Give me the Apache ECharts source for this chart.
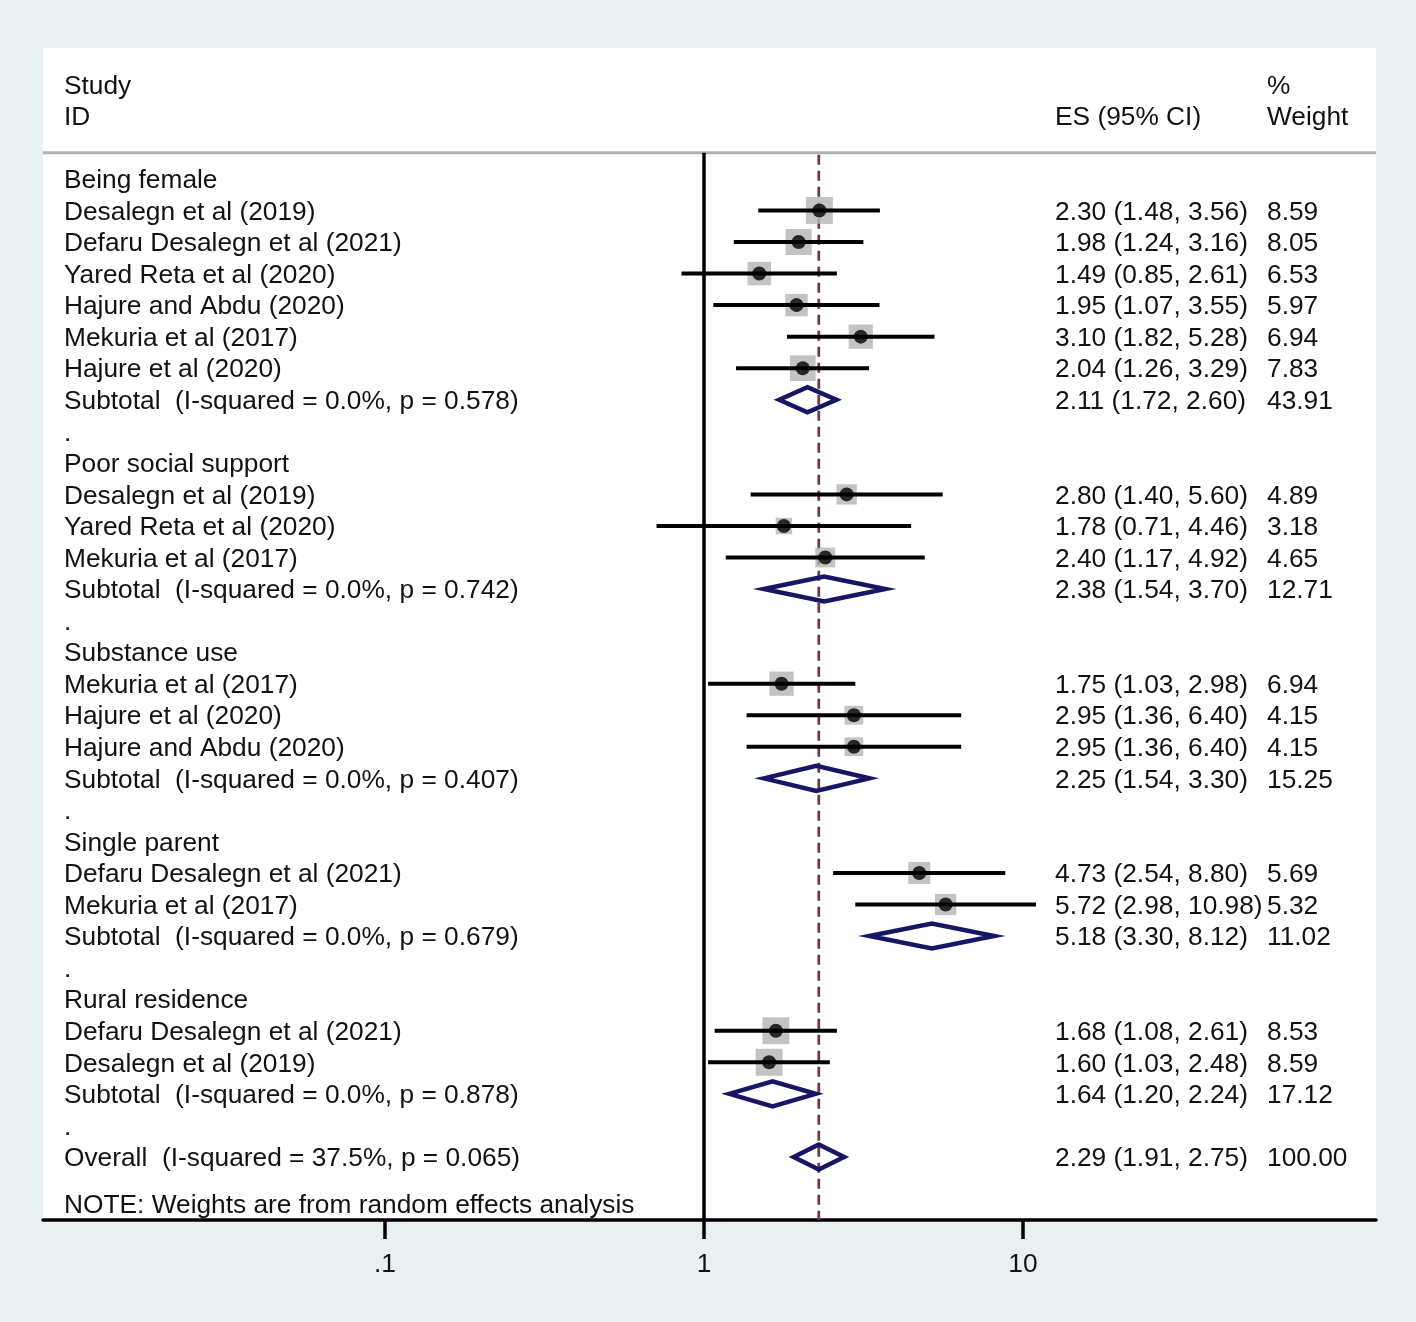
<!DOCTYPE html>
<html><head><meta charset="utf-8">
<script src="https://cdn.jsdelivr.net/npm/echarts@6/dist/echarts.min.js"></script>
<style>html,body{margin:0;padding:0;background:#e9f0f2;} #c{width:1416px;height:1322px;}</style>
</head><body><div id="c"></div>
<script>
// ---------- DATA ----------
const rowLabels = [
  'Being female',
  'Desalegn et al (2019)',
  'Defaru Desalegn et al (2021)',
  'Yared Reta et al (2020)',
  'Hajure and Abdu (2020)',
  'Mekuria et al (2017)',
  'Hajure et al (2020)',
  'Subtotal  (I-squared = 0.0%, p = 0.578)',
  '.',
  'Poor social support',
  'Desalegn et al (2019)',
  'Yared Reta et al (2020)',
  'Mekuria et al (2017)',
  'Subtotal  (I-squared = 0.0%, p = 0.742)',
  '.',
  'Substance use',
  'Mekuria et al (2017)',
  'Hajure et al (2020)',
  'Hajure and Abdu (2020)',
  'Subtotal  (I-squared = 0.0%, p = 0.407)',
  '.',
  'Single parent',
  'Defaru Desalegn et al (2021)',
  'Mekuria et al (2017)',
  'Subtotal  (I-squared = 0.0%, p = 0.679)',
  '.',
  'Rural residence',
  'Defaru Desalegn et al (2021)',
  'Desalegn et al (2019)',
  'Subtotal  (I-squared = 0.0%, p = 0.878)',
  '.',
  'Overall  (I-squared = 37.5%, p = 0.065)'
];
// h = group heading, s = study, t = subtotal, g = gap, o = overall
const rowKinds = ['h','s','s','s','s','s','s','t','g',
                  'h','s','s','s','t','g',
                  'h','s','s','s','t','g',
                  'h','s','s','t','g',
                  'h','s','s','t','g',
                  'o'];
const es      = [null,2.30,1.98,1.49,1.95,3.10,2.04,2.11,null, null,2.80,1.78,2.40,2.38,null, null,1.75,2.95,2.95,2.25,null, null,4.73,5.72,5.18,null, null,1.68,1.60,1.64,null, 2.29];
const ciLow   = [null,1.48,1.24,0.85,1.07,1.82,1.26,1.72,null, null,1.40,0.71,1.17,1.54,null, null,1.03,1.36,1.36,1.54,null, null,2.54,2.98,3.30,null, null,1.08,1.03,1.20,null, 1.91];
const ciHigh  = [null,3.56,3.16,2.61,3.55,5.28,3.29,2.60,null, null,5.60,4.46,4.92,3.70,null, null,2.98,6.40,6.40,3.30,null, null,8.80,10.98,8.12,null, null,2.61,2.48,2.24,null, 2.75];
const weights = [null,8.59,8.05,6.53,5.97,6.94,7.83,43.91,null, null,4.89,3.18,4.65,12.71,null, null,6.94,4.15,4.15,15.25,null, null,5.69,5.32,11.02,null, null,8.53,8.59,17.12,null, 100.00];

const headerStudy = ['Study', 'ID'];
const headerES = 'ES (95% CI)';
const headerWeight = ['%', 'Weight'];
const noteText = 'NOTE: Weights are from random effects analysis';
const tickValues = [0.1, 1, 10];
const tickLabels = ['.1', '1', '10'];
const nullValue = 1;
const overallES = es[es.length - 1];

// ---------- LAYOUT ----------
const X_MIN = Math.pow(10, (43 - 704) / 319);
const X_MAX = Math.pow(10, (1376 - 704) / 319);
const Y_MIN = -4.15, Y_MAX = 33.0;
const RULE_ROW = -0.83;
const NOTE_ROW = 32.5;
const FONT = "'Liberation Sans', Arial, sans-serif";
const FS = 26.3;
const TY = 2;
const TXT = '#121212';
const COL_LABEL = 64, COL_ES = 1055, COL_W = 1267;
const fmt = v => v.toFixed(2);

const studyIdx = rowKinds.map((k, i) => k === 's' ? i : -1).filter(i => i >= 0);
const poolIdx = rowKinds.map((k, i) => (k === 't' || k === 'o') ? i : -1).filter(i => i >= 0);

function txt(x, y, s, align) {
  return { type: 'text', x: x, y: y + TY, style: { text: s, fill: TXT, fontSize: FS, fontFamily: FONT, align: align || 'left', verticalAlign: 'middle' } };
}

const chart = echarts.init(document.getElementById('c'), null, { renderer: 'canvas' });
chart.setOption({
  backgroundColor: '#e9f0f2',
  animation: false,
  grid: { left: 43, right: 40, top: 48, bottom: 102, show: true, backgroundColor: '#ffffff', borderWidth: 0 },
  xAxis: {
    type: 'log', logBase: 10, min: X_MIN, max: X_MAX,
    axisLine: { show: true, onZero: false, lineStyle: { color: '#000', width: 3.5 } },
    axisTick: { show: false }, axisLabel: { show: false }, splitLine: { show: false }
  },
  yAxis: { type: 'value', inverse: true, min: Y_MIN, max: Y_MAX, show: false },
  series: [
    { type: 'line', data: [[X_MIN, RULE_ROW], [X_MAX, RULE_ROW]], symbol: 'none', silent: true,
      lineStyle: { color: '#b0b0b0', width: 3 }, z: 1 },
    { type: 'line', data: [[nullValue, RULE_ROW], [nullValue, Y_MAX]], symbol: 'none', silent: true,
      lineStyle: { color: '#000', width: 3.5 }, z: 2 },
    { type: 'line', data: [[overallES, RULE_ROW + 0.06], [overallES, Y_MAX]], symbol: 'none', silent: true,
      lineStyle: { color: '#763846', width: 2.8, type: [10, 6] }, z: 2 },
    { type: 'scatter', data: studyIdx.map(i => [es[i], i, weights[i]]), symbol: 'rect',
      symbolSize: v => 9.2 * Math.sqrt(v[2]), itemStyle: { color: '#b4b4b4' }, silent: true, z: 3 },
    { type: 'custom', clip: false, silent: true, z: 4,
      data: studyIdx.map(i => [ciLow[i], ciHigh[i], i]),
      renderItem: (p, api) => {
        const a = api.coord([api.value(0), api.value(2)]);
        const b = api.coord([api.value(1), api.value(2)]);
        return { type: 'line', shape: { x1: a[0], y1: a[1], x2: b[0], y2: b[1] }, style: { stroke: '#000', lineWidth: 4 } };
      } },
    { type: 'scatter', data: studyIdx.map(i => [es[i], i]), symbol: 'circle', symbolSize: 14,
      itemStyle: { color: '#000' }, silent: true, z: 5 },
    { type: 'custom', clip: false, silent: true, z: 5,
      data: poolIdx.map(i => [es[i], ciLow[i], ciHigh[i], i]),
      renderItem: (p, api) => {
        const r = api.value(3);
        const c = api.coord([api.value(0), r]);
        const l = api.coord([api.value(1), r]);
        const h = api.coord([api.value(2), r]);
        const hh = 12.5;
        return { type: 'polygon', shape: { points: [[l[0], c[1]], [c[0], c[1] - hh], [h[0], c[1]], [c[0], c[1] + hh]] },
          style: { fill: 'none', stroke: '#161664', lineWidth: 4.5, lineJoin: 'miter' } };
      } },
    { type: 'custom', clip: false, silent: true, z: 6,
      data: rowLabels.map((s, i) => [nullValue, i]),
      renderItem: (p, api) => {
        const i = p.dataIndex;
        const y = api.coord([nullValue, api.value(1)])[1];
        const children = [txt(COL_LABEL, y, rowLabels[i])];
        if (es[i] != null) {
          children.push(txt(COL_ES, y, fmt(es[i]) + ' (' + fmt(ciLow[i]) + ', ' + fmt(ciHigh[i]) + ')'));
          children.push(txt(COL_W, y, fmt(weights[i])));
        }
        return { type: 'group', children: children };
      } },
    { type: 'custom', clip: false, silent: true, z: 6,
      data: [[nullValue, -3], [nullValue, -2], [nullValue, NOTE_ROW]],
      renderItem: (p, api) => {
        const y = api.coord([nullValue, api.value(1)])[1];
        let children;
        if (p.dataIndex === 0) children = [txt(COL_LABEL, y, headerStudy[0]), txt(COL_W, y, headerWeight[0])];
        else if (p.dataIndex === 1) children = [txt(COL_LABEL, y, headerStudy[1]), txt(COL_ES, y, headerES), txt(COL_W, y, headerWeight[1])];
        else children = [txt(COL_LABEL, y, noteText)];
        return { type: 'group', children: children };
      } },
    { type: 'custom', clip: false, silent: true, z: 6,
      data: tickValues.map(v => [v, Y_MAX]),
      renderItem: (p, api) => {
        const c = api.coord([api.value(0), api.value(1)]);
        return { type: 'group', children: [
          { type: 'line', shape: { x1: c[0], y1: c[1], x2: c[0], y2: c[1] + 19 }, style: { stroke: '#000', lineWidth: 3.5 } },
          txt(c[0], c[1] + 43, tickLabels[p.dataIndex], 'center')
        ] };
      } }
  ]
});
</script>
</body></html>
